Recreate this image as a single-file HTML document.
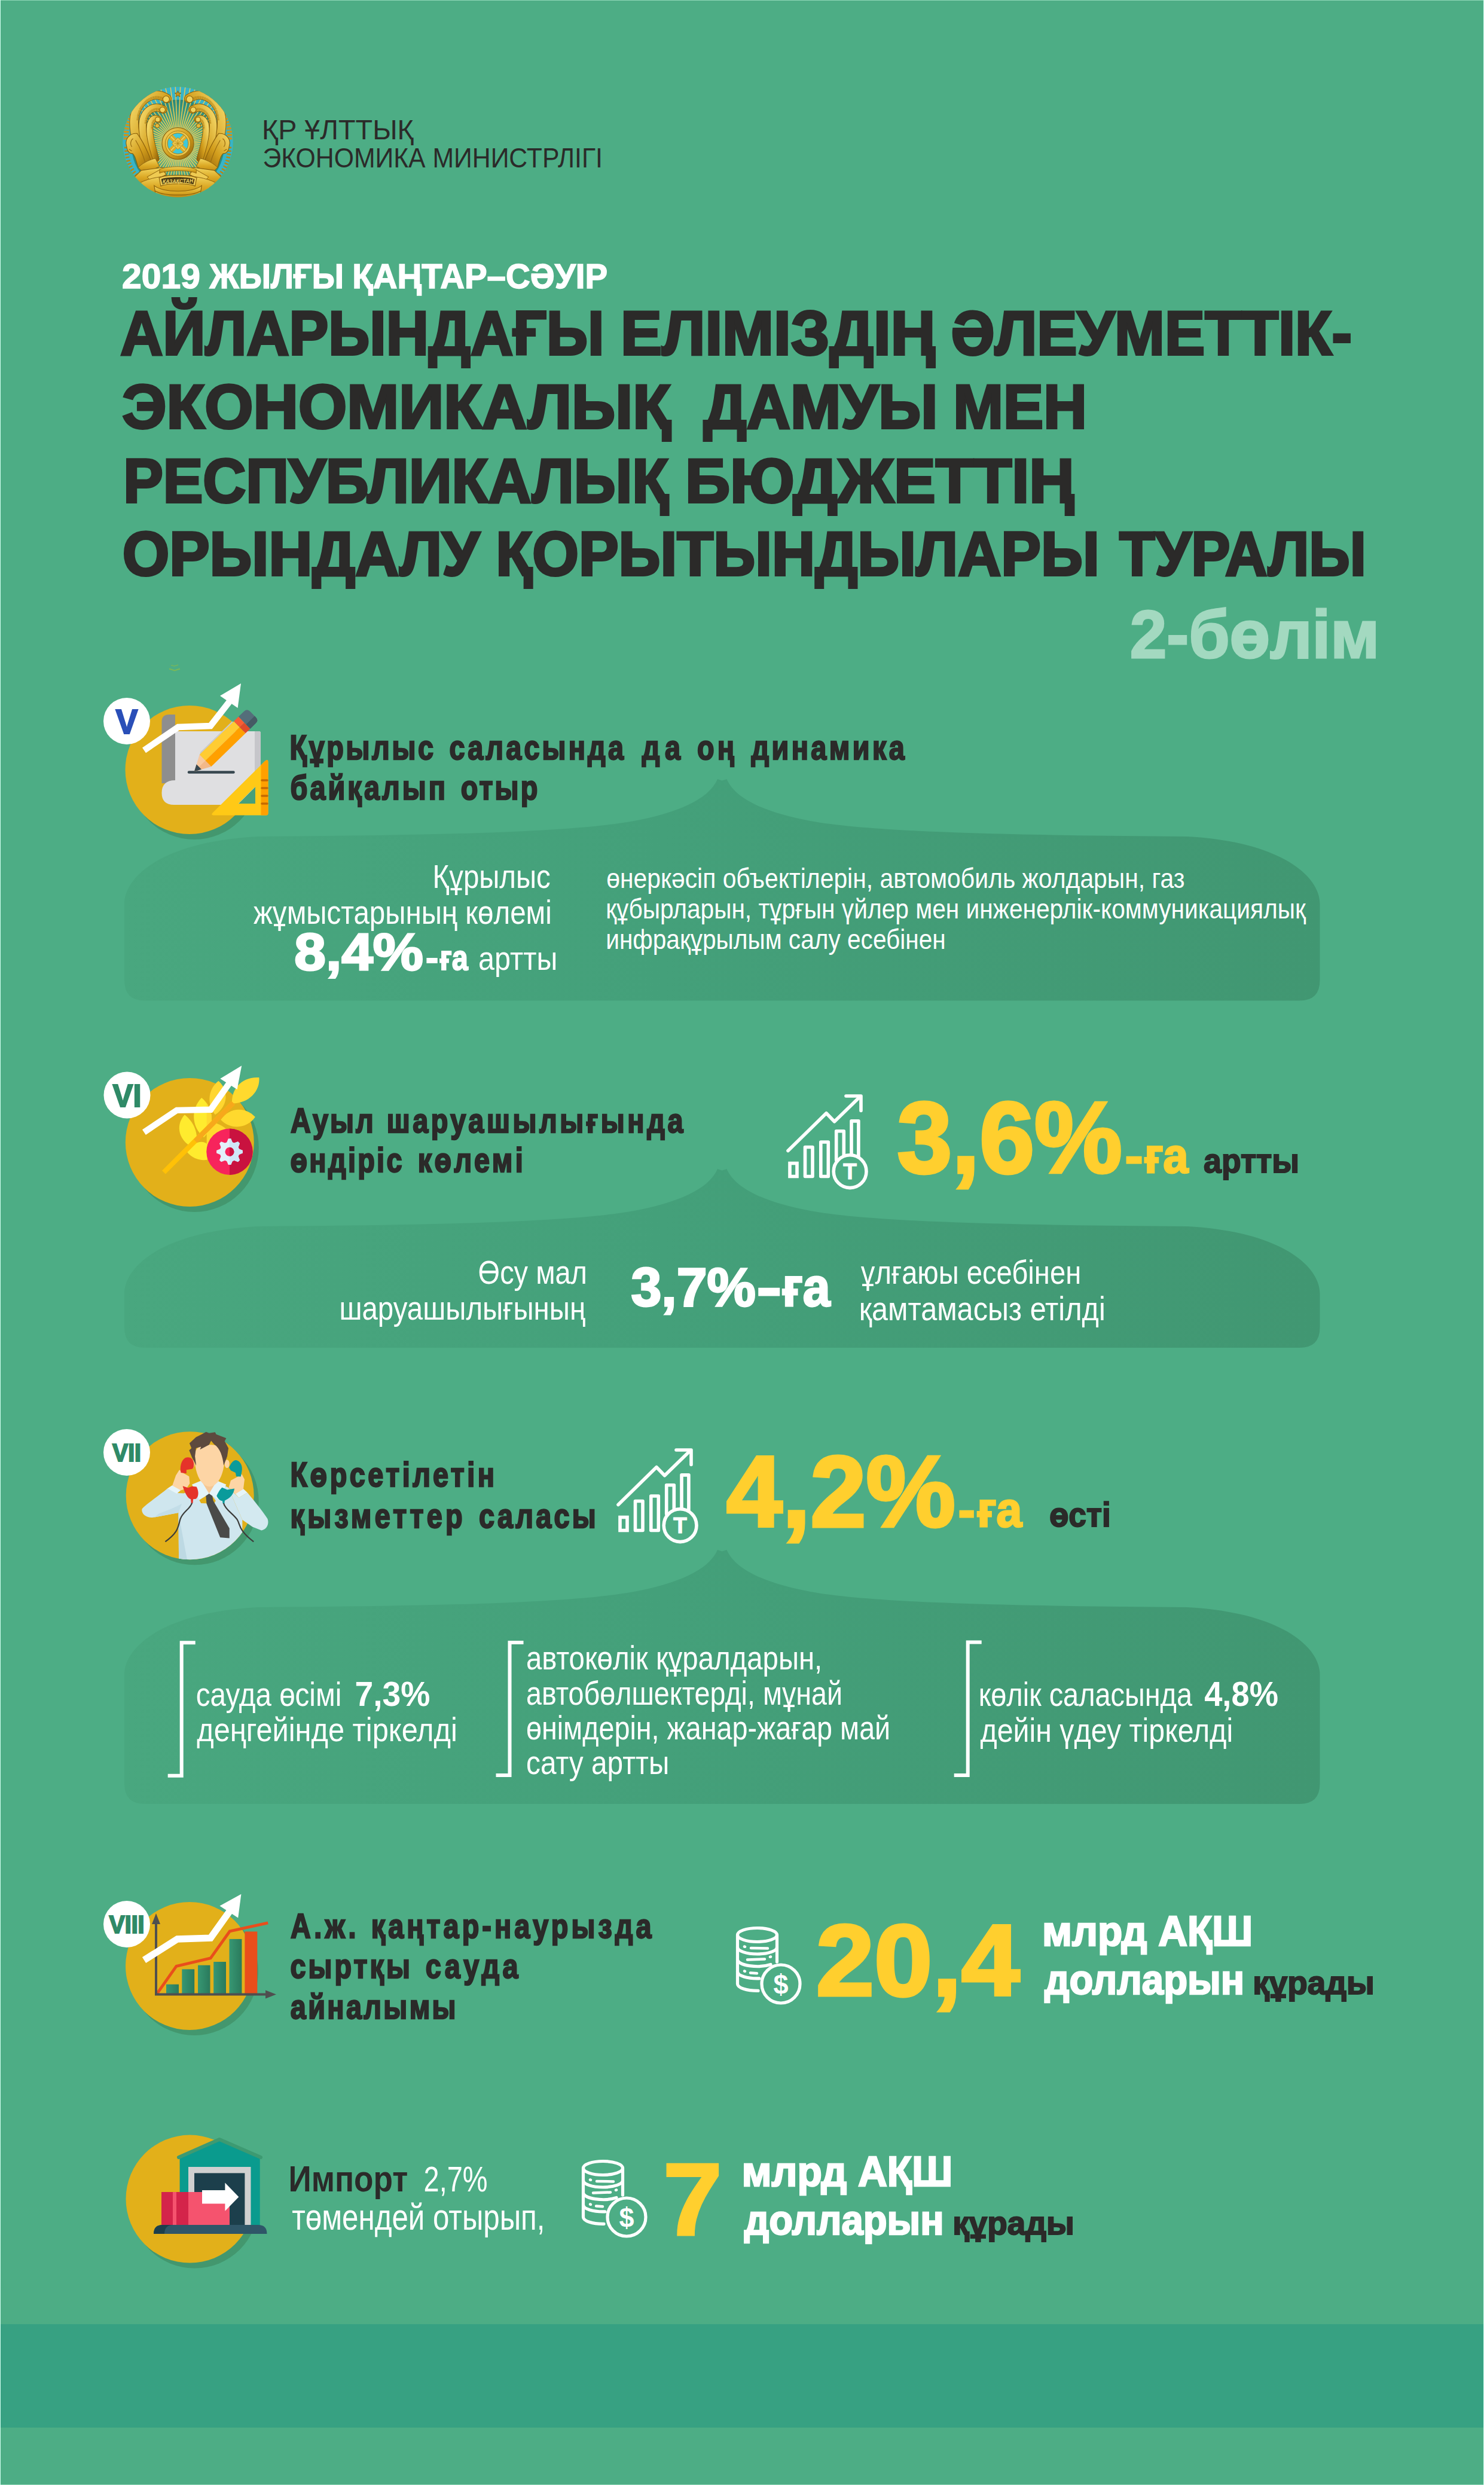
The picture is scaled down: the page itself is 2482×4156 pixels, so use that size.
<!DOCTYPE html>
<html lang="kk"><head><meta charset="utf-8"><title>ҚР Ұлттық экономика министрлігі</title>
<style>
html,body{margin:0;padding:0;background:#4dad85;}
body{width:2482px;height:4156px;overflow:hidden;}
svg{display:block;font-family:"Liberation Sans", sans-serif;}
text{white-space:pre;}
</style></head><body>
<svg width="2482" height="4156" viewBox="0 0 2482 4156">
<defs>
<linearGradient id="pg" x1="0" y1="0" x2="1" y2="0">
<stop offset="0" stop-color="#49a77f"/>
<stop offset="0.45" stop-color="#44a07a"/>
<stop offset="1" stop-color="#419772"/>
</linearGradient>
</defs>
<rect width="2482" height="4156" fill="#4dad85"/>
<rect x="0" y="3887" width="2482" height="173" fill="#37a182"/>
<rect x="0" y="0" width="2482" height="1" fill="#8fd6b6"/>
<rect x="0" y="4155" width="2482" height="1" fill="#8fd6b6"/>
<rect x="0" y="0" width="1" height="4156" fill="#d2fff0"/>
<rect x="2481" y="0" width="1" height="4156" fill="#d2fff0"/>

<path d="M208,1639.6 L208,1511 C208,1468 268,1408 430,1399 C700,1397 950,1393 1060,1373 C1130,1360 1185,1338 1200,1303 L1207.75,1305.5 L1215.5,1303 C1230.5,1338 1285.5,1360 1355.5,1373 C1465.5,1393 1715.5,1397 1985.5,1399 C2147.5,1408 2207.5,1468 2207.5,1511 L2207.5,1639.6 Q2207.5,1673.6 2173.5,1673.6 L242,1673.6 Q208,1673.6 208,1639.6 Z" fill="url(#pg)"/>
<path d="M208,2220 L208,2163 C208,2120 268,2060 430,2051 C700,2049 950,2045 1060,2025 C1130,2012 1185,1990 1200,1955 L1207.75,1957.5 L1215.5,1955 C1230.5,1990 1285.5,2012 1355.5,2025 C1465.5,2045 1715.5,2049 1985.5,2051 C2147.5,2060 2207.5,2120 2207.5,2163 L2207.5,2220 Q2207.5,2254 2173.5,2254 L242,2254 Q208,2254 208,2220 Z" fill="url(#pg)"/>
<path d="M208,2983 L208,2800 C208,2757 268,2697 430,2688 C700,2686 950,2682 1060,2662 C1130,2649 1185,2627 1200,2592 L1207.75,2594.5 L1215.5,2592 C1230.5,2627 1285.5,2649 1355.5,2662 C1465.5,2682 1715.5,2686 1985.5,2688 C2147.5,2697 2207.5,2757 2207.5,2800 L2207.5,2983 Q2207.5,3017 2173.5,3017 L242,3017 Q208,3017 208,2983 Z" fill="url(#pg)"/>
<g transform="translate(195,135) scale(0.13814)">
<defs><linearGradient id="eg" x1="0" y1="0" x2="0" y2="1"><stop offset="0" stop-color="#f3d660"/><stop offset="0.5" stop-color="#dba824"/><stop offset="1" stop-color="#b8820f"/></linearGradient><linearGradient id="eg2" x1="0" y1="0" x2="1" y2="1"><stop offset="0" stop-color="#f4d868"/><stop offset="0.55" stop-color="#d29d1c"/><stop offset="1" stop-color="#94640a"/></linearGradient><radialGradient id="egr" cx="0.5" cy="0.52" r="0.5"><stop offset="0" stop-color="#8fd0a4"/><stop offset="0.55" stop-color="#4aa581"/><stop offset="1" stop-color="#2b8a7c"/></radialGradient><clipPath id="ec"><circle cx="742" cy="742" r="668"/></clipPath></defs>
<defs><clipPath id="ecb"><rect x="0" y="0" width="1484" height="1190"/></clipPath></defs>
<circle cx="742" cy="742" r="668" fill="#37b4c8" clip-path="url(#ecb)"/>
<g clip-path="url(#ec)">
<circle cx="742" cy="790" r="560" fill="url(#egr)"/>
<path d="M927,768L1212,781 M925,784L1208,821 M923,800L1201,862 M918,816L1190,901 M913,831L1176,940 M906,845L1159,977 M898,859L1138,1013 M889,873L1115,1046 M878,885L1089,1078 M867,896L1060,1107 M855,907L1028,1133 M841,916L995,1156 M827,924L959,1177 M813,931L922,1194 M798,936L883,1208 M782,941L844,1219 M766,943L803,1226 M750,945L763,1230 M734,945L721,1230 M718,943L681,1226 M702,941L640,1219 M686,936L601,1208 M671,931L562,1194 M657,924L525,1177 M643,916L489,1156 M629,907L456,1133 M617,896L424,1107 M606,885L395,1078 M595,873L369,1046 M586,859L346,1013 M578,845L325,977 M571,831L308,940 M566,816L294,901 M561,800L283,862 M559,784L276,821 M557,768L272,781 M557,752L272,739 M559,736L276,699 M561,720L283,658 M566,704L294,619 M571,689L308,580 M578,675L325,543 M586,661L346,507 M595,647L187,334 M606,635L226,287 M617,624L269,244 M629,613L316,205 M643,604L366,170 M657,596L419,139 M671,589L474,113 M686,584L532,92 M702,579L590,77 M718,577L651,66 M734,575L711,61 M750,575L773,61 M766,577L833,66 M782,579L894,77 M798,584L952,92 M813,589L1010,113 M827,596L1065,139 M841,604L1118,170 M855,613L1168,205 M867,624L1215,244 M878,635L1258,287 M889,647L1297,334 M898,661L1138,507 M906,675L1159,543 M913,689L1176,580 M918,704L1190,619 M923,720L1201,658 M925,736L1208,699 M927,752L1212,739" stroke="#e9c955" stroke-width="11" fill="none"/>
<g transform="translate(742,0) scale(1,1) translate(-742,0)">
<path d="M300,215 C170,330 105,520 118,720" stroke="#c9971c" stroke-width="62" fill="none" stroke-dasharray="26 14"/>
<path d="M118,800 C120,960 170,1080 260,1170" stroke="#b8890f" stroke-width="50" fill="none" stroke-dasharray="18 22"/>
<path d="M610,215 C430,95 225,250 212,480 C204,650 262,800 335,965" stroke="#8a5f0a" stroke-width="112" fill="none" stroke-linecap="round"/>
<path d="M610,215 C430,95 225,250 212,480 C204,650 262,800 335,965" stroke="url(#eg2)" stroke-width="98" fill="none" stroke-linecap="round"/>
<path d="M585,232 C440,140 270,270 258,480" stroke="#a8780f" stroke-width="34" fill="none" stroke-dasharray="5 6"/>
<path d="M565,350 C450,275 325,375 315,520 C306,660 355,800 405,945" stroke="#8a5f0a" stroke-width="96" fill="none" stroke-linecap="round"/>
<path d="M565,350 C450,275 325,375 315,520 C306,660 355,800 405,945" stroke="url(#eg2)" stroke-width="82" fill="none" stroke-linecap="round"/>
<path d="M545,362 C455,305 360,390 352,520" stroke="#a8780f" stroke-width="28" fill="none" stroke-dasharray="5 6"/>
<path d="M505,468 C445,430 400,495 400,585 C400,705 440,825 475,945" stroke="#8a5f0a" stroke-width="84" fill="none" stroke-linecap="round"/>
<path d="M505,468 C445,430 400,495 400,585 C400,705 440,825 475,945" stroke="url(#eg2)" stroke-width="70" fill="none" stroke-linecap="round"/>
<path d="M490,478 C450,455 425,510 428,585" stroke="#a8780f" stroke-width="22" fill="none" stroke-dasharray="5 6"/>
<circle cx="600" cy="225" r="40" fill="#f1d25c" stroke="#8a5f0a" stroke-width="8"/>
<circle cx="556" cy="352" r="34" fill="#f1d25c" stroke="#8a5f0a" stroke-width="8"/>
<circle cx="498" cy="470" r="30" fill="#f1d25c" stroke="#8a5f0a" stroke-width="8"/>
<circle cx="492" cy="545" r="26" fill="#e4b93a" stroke="#8a5f0a" stroke-width="7"/>
<path d="M250,640 C165,630 95,700 120,790 C128,850 150,885 195,882 C228,905 240,985 262,1050 L430,1005 C395,900 335,760 250,640 Z" fill="url(#eg2)" stroke="#8a5f0a" stroke-width="8"/>
<path d="M200,700 C170,720 160,770 185,800 M150,830 L185,850 M230,720 C280,800 320,900 350,1000" stroke="#9a6c10" stroke-width="9" fill="none"/>
<path d="M262,1050 C300,1010 380,960 470,940 L520,1040 L330,1120 Z" fill="url(#eg)" stroke="#8a5f0a" stroke-width="7"/>
<path d="M175,1205 L300,1085 L560,1050 L600,1140 L420,1215 L300,1240 L260,1290 Z" fill="url(#eg)" stroke="#8a5f0a" stroke-width="8"/>
<path d="M370,1165 L545,1065 L600,1135 L430,1225 Z" fill="#efcb52" stroke="#8a5f0a" stroke-width="7"/>
<path d="M360,1290 L470,1255 L470,1380 L405,1395 L395,1340 L360,1350 Z" fill="url(#eg)" stroke="#8a5f0a" stroke-width="6"/>
</g>
<g transform="translate(742,0) scale(-1,1) translate(-742,0)">
<path d="M300,215 C170,330 105,520 118,720" stroke="#c9971c" stroke-width="62" fill="none" stroke-dasharray="26 14"/>
<path d="M118,800 C120,960 170,1080 260,1170" stroke="#b8890f" stroke-width="50" fill="none" stroke-dasharray="18 22"/>
<path d="M610,215 C430,95 225,250 212,480 C204,650 262,800 335,965" stroke="#8a5f0a" stroke-width="112" fill="none" stroke-linecap="round"/>
<path d="M610,215 C430,95 225,250 212,480 C204,650 262,800 335,965" stroke="url(#eg2)" stroke-width="98" fill="none" stroke-linecap="round"/>
<path d="M585,232 C440,140 270,270 258,480" stroke="#a8780f" stroke-width="34" fill="none" stroke-dasharray="5 6"/>
<path d="M565,350 C450,275 325,375 315,520 C306,660 355,800 405,945" stroke="#8a5f0a" stroke-width="96" fill="none" stroke-linecap="round"/>
<path d="M565,350 C450,275 325,375 315,520 C306,660 355,800 405,945" stroke="url(#eg2)" stroke-width="82" fill="none" stroke-linecap="round"/>
<path d="M545,362 C455,305 360,390 352,520" stroke="#a8780f" stroke-width="28" fill="none" stroke-dasharray="5 6"/>
<path d="M505,468 C445,430 400,495 400,585 C400,705 440,825 475,945" stroke="#8a5f0a" stroke-width="84" fill="none" stroke-linecap="round"/>
<path d="M505,468 C445,430 400,495 400,585 C400,705 440,825 475,945" stroke="url(#eg2)" stroke-width="70" fill="none" stroke-linecap="round"/>
<path d="M490,478 C450,455 425,510 428,585" stroke="#a8780f" stroke-width="22" fill="none" stroke-dasharray="5 6"/>
<circle cx="600" cy="225" r="40" fill="#f1d25c" stroke="#8a5f0a" stroke-width="8"/>
<circle cx="556" cy="352" r="34" fill="#f1d25c" stroke="#8a5f0a" stroke-width="8"/>
<circle cx="498" cy="470" r="30" fill="#f1d25c" stroke="#8a5f0a" stroke-width="8"/>
<circle cx="492" cy="545" r="26" fill="#e4b93a" stroke="#8a5f0a" stroke-width="7"/>
<path d="M250,640 C165,630 95,700 120,790 C128,850 150,885 195,882 C228,905 240,985 262,1050 L430,1005 C395,900 335,760 250,640 Z" fill="url(#eg2)" stroke="#8a5f0a" stroke-width="8"/>
<path d="M200,700 C170,720 160,770 185,800 M150,830 L185,850 M230,720 C280,800 320,900 350,1000" stroke="#9a6c10" stroke-width="9" fill="none"/>
<path d="M262,1050 C300,1010 380,960 470,940 L520,1040 L330,1120 Z" fill="url(#eg)" stroke="#8a5f0a" stroke-width="7"/>
<path d="M175,1205 L300,1085 L560,1050 L600,1140 L420,1215 L300,1240 L260,1290 Z" fill="url(#eg)" stroke="#8a5f0a" stroke-width="8"/>
<path d="M370,1165 L545,1065 L600,1135 L430,1225 Z" fill="#efcb52" stroke="#8a5f0a" stroke-width="7"/>
<path d="M360,1290 L470,1255 L470,1380 L405,1395 L395,1340 L360,1350 Z" fill="url(#eg)" stroke="#8a5f0a" stroke-width="6"/>
</g>
<path d="M285,1235 C500,1120 985,1120 1200,1235 L1120,1330 C960,1450 525,1450 365,1330 Z" fill="url(#eg)" stroke="#8a5f0a" stroke-width="7"/>
<path d="M520,1075 C600,1030 885,1030 965,1075 L965,1120 C885,1080 600,1080 520,1120 Z" fill="url(#eg)" stroke="#8a5f0a" stroke-width="6"/>
<path d="M455,1270 C560,1360 925,1360 1030,1270 L1010,1400 C900,1440 585,1440 475,1400 Z" fill="url(#eg)" stroke="#8a5f0a" stroke-width="8"/>
<path d="M470,1335 C580,1400 905,1400 1015,1335" stroke="#8a5f0a" stroke-width="9" fill="none"/>
<path d="M515,1175 C600,1135 885,1135 970,1175 L950,1275 C870,1240 615,1240 535,1275 Z" fill="#efcb52" stroke="#8a5f0a" stroke-width="8"/>
<path d="M540,1192 C620,1160 865,1160 945,1192 L930,1255 C855,1228 630,1228 555,1255 Z" fill="#4a3a12"/>
<circle cx="742" cy="760" r="192" fill="url(#eg2)" stroke="#8a5f0a" stroke-width="8"/>
<circle cx="742" cy="760" r="152" fill="#e9c44a" stroke="#a8780f" stroke-width="7"/>
<circle cx="742" cy="760" r="126" fill="#3fc8da"/>
<path d="M655,673 L829,847 M829,673 L655,847" stroke="#d9aa2a" stroke-width="62"/>
<path d="M655,673 L829,847 M829,673 L655,847" stroke="#f1d468" stroke-width="12" stroke-dasharray="0" />
<rect x="690" y="708" width="104" height="104" transform="rotate(45 742 760)" fill="#e9c44a" stroke="#a8780f" stroke-width="5"/>
<path d="M700,760 L784,760 M742,718 L742,802 M712,730 L772,790 M772,730 L712,790" stroke="#a8780f" stroke-width="5"/>
<circle cx="742" cy="760" r="126" fill="none" stroke="#a8780f" stroke-width="7"/>
<polygon points="742,122 752,148 780,150 758,167 766,194 742,179 718,194 726,167 704,150 732,148" fill="#c9971c" stroke="#7a560a" stroke-width="6"/>
</g>
<text x="556" y="1238" font-size="66" font-weight="bold" font-style="italic" fill="#f3d768" textLength="372" lengthAdjust="spacingAndGlyphs" transform="rotate(-1.500 742 1215)">ҚАЗАҚСТАН</text>
</g>
<circle cx="325" cy="1296.5" r="107.5" fill="#43976e"/>
<circle cx="317" cy="1287.5" r="107.5" fill="#e2b01a"/>
<path d="M270.500,1207 Q270.500,1195 283,1195 L293,1195 L293,1310 L270.500,1310 Z" fill="#8e8e8e"/>
<path d="M293,1223 L433,1223 Q436,1223 436,1226 L436,1346 L291,1346 Q270.500,1346 270.500,1326 Q270.500,1305 293,1305 Z" fill="#dfdfe1"/>
<path d="M426,1223 L433,1223 Q436,1223 436,1226 L436,1346 L426,1346 Z" fill="#c6c6ca"/>
<path d="M316,1291.500 L390.500,1291.500" stroke="#37474f" stroke-width="4.5" stroke-linecap="round"/>
<g transform="translate(324.9,1290.2) rotate(-44.2)"><path d="M6,-2 L30,-16 L104,-16 L104,-10 L20,8 Z" fill="#c9c9cd"/><path d="M0,0 L26,-14 L26,14 Z" fill="#f8c9a0"/><path d="M0,0 L26,0 L26,14 Z" fill="#f2b88a"/><path d="M0,0 L11,-6 L11,6 Z" fill="#37474f"/><rect x="26" y="-14" width="80" height="14" fill="#ffcc33"/><rect x="26" y="0" width="80" height="14" fill="#ffa000"/><rect x="106" y="-14" width="11" height="14" fill="#f95d34"/><rect x="106" y="0" width="11" height="14" fill="#e04a2a"/><path d="M117,-14 L130,-14 Q137,-14 137,-7 L137,7 Q137,14 130,14 L117,14 Z" fill="#546e7a"/><path d="M117,4 L137,4 L137,7 Q137,14 130,14 L117,14 Z" fill="#455a64"/></g>
<path d="M399,1344 L427,1316 L427,1344 Z" fill="#47a07a"/>
<path fill-rule="evenodd" d="M357,1363.500 Q352,1363.500 356,1359 L443,1273 Q448.500,1268 448.500,1275 L448.500,1360 Q448.500,1363.500 445,1363.500 Z M398.500,1344 L427,1344 L427,1315.500 Z" fill="#ffc916"/>
<path d="M436.500,1279.500 L443,1273 Q448.500,1268 448.500,1275 L448.500,1360 Q448.500,1363.500 445,1363.500 L436.500,1363.500 Z" fill="#ffa000"/>
<path d="M438,1305 h9 M438,1318 h9 M438,1331 h9 M438,1344 h9" stroke="#c66a00" stroke-width="3.500" stroke-linecap="round"/>
<path d="M241.0,1254.8 L298.0,1216.0 L352.0,1214.0 L386.0,1170.5" stroke="#fff" stroke-width="10.6" fill="none" stroke-linejoin="miter"/>
<path d="M403,1143 L368,1163.8 L397.6,1184 Z" fill="#fff"/>
<circle cx="212" cy="1206" r="39" fill="#fff"/>
<text x="193.5" y="1226.6" font-size="58" font-weight="bold" fill="#2a4fb8" stroke="#2a4fb8" stroke-width="2.2" textLength="37" lengthAdjust="spacingAndGlyphs">V</text>
<circle cx="325.3" cy="1919.5" r="107.5" fill="#43976e"/>
<circle cx="317.3" cy="1910.5" r="107.5" fill="#e2b01a"/>
<g transform="translate(190,1770) scale(0.18868)">
<defs><clipPath id="c6r"><rect x="825" y="0" width="700" height="1400"/></clipPath></defs>
<path d="M900,500 C820,400 840,270 930,200 C1020,280 1020,420 900,500 Z" fill="#ffd630"/>
<path d="M1050,400 C1040,280 1130,160 1290,170 C1300,290 1200,400 1050,400 Z" fill="#ffd92e"/>
<path d="M950,545 C1020,440 1160,420 1255,520 C1190,620 1040,640 950,545 Z" fill="#ffd92e"/>
<path d="M825,560 C900,560 980,600 1010,640 L900,760 L825,760 Z" fill="#ffd92e"/>
<path d="M720,800 C580,740 540,600 630,500 C730,580 760,700 720,800 Z" fill="#ffeb2e"/>
<path d="M800,700 C680,600 690,440 780,350 C890,440 900,600 800,700 Z" fill="#ffeb2e"/>
<path clip-path="url(#c6r)" d="M800,700 C680,600 690,440 780,350 C890,440 900,600 800,700 Z" fill="#ffd92e"/>
<path d="M650,830 C700,740 790,720 830,760 L830,900 C770,910 700,890 650,830 Z" fill="#ffeb2e"/>
<path d="M445,1010 L1060,395" stroke="#ffc107" stroke-width="44" fill="none"/>
<path d="M725,733 L1060,395" stroke="#f7a81b" stroke-width="44" fill="none"/>
</g>
<circle cx="384" cy="1926.2" r="38.7" fill="#f7245c"/>
<path d="M384,1887.500 A38.7,38.7 0 0 1 384,1964.900 Z" fill="#c9123f"/>
<defs><clipPath id="c6g"><polygon points="405.9,1924.0 405.9,1928.4 399.8,1931.0 398.6,1934.0 401.0,1940.2 398.0,1943.2 391.8,1940.8 388.8,1942.0 386.2,1948.1 381.8,1948.1 379.2,1942.0 376.2,1940.8 370.0,1943.2 367.0,1940.2 369.4,1934.0 368.2,1931.0 362.1,1928.4 362.1,1924.0 368.2,1921.4 369.4,1918.4 367.0,1912.2 370.0,1909.2 376.2,1911.6 379.2,1910.4 381.8,1904.3 386.2,1904.3 388.8,1910.4 391.8,1911.6 398.0,1909.2 401.0,1912.2 398.6,1918.4 399.8,1921.4"/></clipPath></defs>
<polygon points="405.9,1924.0 405.9,1928.4 399.8,1931.0 398.6,1934.0 401.0,1940.2 398.0,1943.2 391.8,1940.8 388.8,1942.0 386.2,1948.1 381.8,1948.1 379.2,1942.0 376.2,1940.8 370.0,1943.2 367.0,1940.2 369.4,1934.0 368.2,1931.0 362.1,1928.4 362.1,1924.0 368.2,1921.4 369.4,1918.4 367.0,1912.2 370.0,1909.2 376.2,1911.6 379.2,1910.4 381.8,1904.3 386.2,1904.3 388.8,1910.4 391.8,1911.6 398.0,1909.2 401.0,1912.2 398.6,1918.4 399.8,1921.4" fill="#e3f1fb"/>
<path d="M384,1900 L384,1952 L410,1952 L410,1900 Z" fill="#cfe6f7" clip-path="url(#c6g)"/>
<circle cx="384" cy="1926.2" r="7.5" fill="#f7245c"/>
<path d="M384,1918.700 A7.5,7.5 0 0 1 384,1933.700 Z" fill="#c9123f"/>
<path d="M240.9,1893.6 L295.7,1856.8 L352.3,1855.8 L384.3,1810.6" stroke="#fff" stroke-width="10.4" fill="none" stroke-linejoin="miter"/>
<path d="M404.2,1782.3 L368.3,1804 L396.6,1821.9 Z" fill="#fff"/>
<circle cx="212.5" cy="1831.5" r="39" fill="#fff"/>
<text x="188.5" y="1850.7" font-size="54" font-weight="bold" fill="#2f8a67" stroke="#2f8a67" stroke-width="2.2" textLength="48" lengthAdjust="spacingAndGlyphs">VI</text>
<circle cx="325.7" cy="2510.3" r="107" fill="#43976e"/>
<circle cx="317.7" cy="2501.3" r="107" fill="#e2b01a"/>
<defs><clipPath id="c7"><circle cx="317.7" cy="2501.3" r="107"/></clipPath></defs>
<g clip-path="url(#c7)"><g transform="translate(220,2380) scale(0.16846)">
<path d="M600,640 L690,585 L770,700 L850,585 L960,640 L1100,960 L1100,1400 L470,1400 L465,890 L520,700 Z" fill="#cfe6ee"/>
<path d="M465,890 L470,1400 L560,1400 Z" fill="#bdd9e3"/>
</g></g>
<g transform="translate(220,2380) scale(0.16846)">
<path d="M355,650 L450,695 L600,700 L465,890 L230,935 C150,950 90,900 105,850 C150,800 300,700 355,650 Z" fill="#cfe6ee"/>
<path d="M270,900 C350,870 430,840 500,800 L465,890 L230,935 Z" fill="#c2dde7"/>
<path d="M1150,690 L1065,740 L960,640 L1100,960 L1200,1030 L1290,1065 C1340,1060 1370,1000 1350,950 C1300,870 1200,750 1150,690 Z" fill="#d3e9f0"/>
<path d="M355,650 L405,618 L492,663 L450,700 Z" fill="#e6f5fa"/>
<path d="M1065,740 L1028,700 L1110,653 L1150,690 Z" fill="#e6f5fa"/>
<path d="M405,620 L440,520 L475,465 L520,500 L572,530 L578,600 L545,650 L490,668 Z" fill="#fdd5a5"/>
<path d="M1110,655 L1122,560 L1095,508 L1040,540 L985,570 L965,640 L1030,705 Z" fill="#fdd5a5"/>
<path d="M690,540 L850,540 L850,610 L770,700 L690,610 Z" fill="#f5c794"/>
<path d="M600,610 L692,572 L770,700 L672,765 Z" fill="#e3f4fa"/>
<path d="M848,572 L940,610 L868,765 L770,700 Z" fill="#e3f4fa"/>
<path d="M672,765 L740,722 L800,722 L836,770 L820,800 L690,795 Z" fill="#e2b01a"/>
<path d="M738,722 L770,700 L802,722 L812,772 L972,1045 L972,1142 L880,1136 L745,800 Z" fill="#4a4a48"/>
<path d="M625,330 C625,240 690,215 775,215 C860,215 925,240 925,330 C925,420 905,520 860,580 C830,615 800,630 775,630 C750,630 720,615 690,580 C645,520 625,420 625,330 Z" fill="#fdd5a5"/>
<ellipse cx="948" cy="405" rx="24" ry="42" fill="#fdd5a5"/>
<ellipse cx="606" cy="405" rx="20" ry="40" fill="#fdd5a5"/>
<path d="M600,340 L572,270 L595,250 L575,200 L640,140 L700,110 L740,88 L770,100 L830,90 L840,112 L940,150 L925,180 L962,250 L950,330 L915,422 C905,330 880,250 820,210 L790,175 L770,215 L680,262 L690,235 L640,250 L630,330 L642,422 Z" fill="#5d4a3e"/>
<path d="M490,492 C478,440 490,370 535,345 C570,330 610,345 618,395 C622,430 615,450 600,455 L545,465 L545,500 Z" fill="#e5332a"/>
<path d="M508,625 L560,642 L600,628 L645,632 C670,680 668,730 640,752 L612,755 L608,795 L592,795 L588,755 C560,750 530,700 508,625 Z" fill="#e5332a"/>
<path d="M968,442 C985,400 1010,365 1040,368 C1085,380 1105,430 1095,480 L1085,532 L1040,530 L1032,492 L985,470 Z" fill="#0a9b9b"/>
<path d="M845,722 C860,690 880,655 900,640 L950,662 L1022,650 C1015,700 985,740 940,762 L925,770 L922,800 L906,800 L902,772 C880,770 860,755 845,722 Z" fill="#0a9b9b"/>
<path d="M600,792 C585,850 510,880 485,950 C460,1030 470,1080 335,1178" stroke="#3c3c3a" stroke-width="13" fill="none"/>
<path d="M914,795 C930,860 1010,900 1050,960 C1080,1010 1060,1060 1212,1178" stroke="#3c3c3a" stroke-width="13" fill="none"/>
</g>
<circle cx="212" cy="2429" r="39" fill="#fff"/>
<text x="188.0" y="2443.9" font-size="42" font-weight="bold" fill="#2f8a67" stroke="#2f8a67" stroke-width="2.2" textLength="48" lengthAdjust="spacingAndGlyphs">VII</text>
<circle cx="325" cy="3297" r="107" fill="#43976e"/>
<circle cx="317" cy="3288" r="107" fill="#e2b01a"/>
<defs><linearGradient id="bg8" x1="0" y1="0" x2="1" y2="0"><stop offset="0" stop-color="#379773"/><stop offset="1" stop-color="#2a7a5c"/></linearGradient></defs>
<rect x="278" y="3318.7" width="21.0" height="15.3" fill="url(#bg8)"/>
<rect x="304.3" y="3293.4" width="20.9" height="40.6" fill="url(#bg8)"/>
<rect x="331" y="3286.7" width="20.5" height="47.3" fill="url(#bg8)"/>
<rect x="357.2" y="3281" width="20.8" height="53.0" fill="url(#bg8)"/>
<rect x="383.5" y="3242.9" width="20.9" height="91.1" fill="url(#bg8)"/>
<rect x="409.4" y="3230.4" width="20.9" height="103.6" fill="#e94e1b"/>
<path d="M262.9,3333.8 L294.9,3288.4 L352.2,3274.9 L384.2,3230 L448.2,3215.9" stroke="#e94e1b" stroke-width="4.8" fill="none"/>
<path d="M261,3212 L261,3335.500 L448,3335.500" stroke="#4f4f4f" stroke-width="4" fill="none"/>
<path d="M261,3200 L268,3218 L254,3218 Z M462,3335.500 L444,3328.5 L444,3342.5 Z" fill="#4f4f4f"/>
<path d="M241.0,3278.2 L296.6,3242.9 L352.2,3241.2 L385.8,3194.0" stroke="#fff" stroke-width="11.5" fill="none" stroke-linejoin="miter"/>
<path d="M403.4,3167.7 L367.5,3187.5 L398.2,3207.5 Z" fill="#fff"/>
<circle cx="212" cy="3218" r="39" fill="#fff"/>
<text x="182.5" y="3232.9" font-size="42" font-weight="bold" fill="#2f8a67" stroke="#2f8a67" stroke-width="2.2" textLength="59" lengthAdjust="spacingAndGlyphs">VIII</text>
<circle cx="325.5" cy="3686.6" r="107" fill="#43976e"/>
<circle cx="317.5" cy="3677.6" r="107" fill="#e2b01a"/>
<path d="M300.6,3609 L367,3579 L434.7,3609 L434.7,3722 L300.6,3722 Z" fill="#0a9b8e"/>
<path d="M299,3608 L367,3578 L436,3608" stroke="#3d9a72" stroke-width="6" fill="none" stroke-linecap="round" stroke-linejoin="round"/>
<rect x="315" y="3624" width="104.5" height="98" fill="#d0d0d0"/>
<rect x="325" y="3634.4" width="84.4" height="87.6" fill="#1c3f4c"/>
<rect x="270" y="3666" width="45" height="56" fill="#d4244a"/>
<rect x="289" y="3666" width="6" height="56" fill="#f5536e"/>
<rect x="315" y="3666" width="69" height="56" fill="#f5536e"/>
<path d="M338,3663 L376.4,3663 L376.4,3650.6 L399.3,3674.2 L376.4,3697.8 L376.4,3685.600 L338,3685.600 Z" fill="#fff"/>
<path d="M257,3736 Q257,3721 272,3721 L431.500,3721 Q446.500,3721 446.500,3736 Z" fill="#2f5668"/>
<path d="M257,3736 Q257,3721 272,3721 L290,3721 Q275,3721 275,3736 Z" fill="#1c3f4c"/>
<g transform="translate(0,0)" stroke="#fff" stroke-width="5.6" fill="none" stroke-linejoin="round" stroke-linecap="round">
<rect x="1321" y="1945.500" width="12" height="22" stroke-linejoin="miter"/>
<rect x="1346.5" y="1918.5" width="12.5" height="49"/>
<rect x="1372.8" y="1910" width="12.5" height="57.5"/>
<path d="M1398.7,1940 L1398.7,1891.8 L1411.3,1891.8 L1411.3,1932"/>
<path d="M1424,1930 L1424,1874.9 L1435.9,1874.9 L1435.9,1934"/>
<circle cx="1421.6" cy="1959.2" r="27.4"/>
<path d="M1318,1924.5 L1382,1861.7 L1395.6,1875.8 L1438,1834.5"/>
<path d="M1415,1833 L1440,1833 L1440,1857.5"/>
</g>
<text x="1410.1" y="1972.2" font-size="37" font-weight="bold" fill="#fff" stroke="#fff" stroke-width="0.8" textLength="23" lengthAdjust="spacingAndGlyphs">Т</text>
<g transform="translate(-284,592)" stroke="#fff" stroke-width="5.6" fill="none" stroke-linejoin="round" stroke-linecap="round">
<rect x="1321" y="1945.500" width="12" height="22" stroke-linejoin="miter"/>
<rect x="1346.5" y="1918.5" width="12.5" height="49"/>
<rect x="1372.8" y="1910" width="12.5" height="57.5"/>
<path d="M1398.7,1940 L1398.7,1891.8 L1411.3,1891.8 L1411.3,1932"/>
<path d="M1424,1930 L1424,1874.9 L1435.9,1874.9 L1435.9,1934"/>
<circle cx="1421.6" cy="1959.2" r="27.4"/>
<path d="M1318,1924.5 L1382,1861.7 L1395.6,1875.8 L1438,1834.5"/>
<path d="M1415,1833 L1440,1833 L1440,1857.5"/>
</g>
<text x="1126.1" y="2564.2" font-size="37" font-weight="bold" fill="#fff" stroke="#fff" stroke-width="0.8" textLength="23" lengthAdjust="spacingAndGlyphs">Т</text>
<g transform="translate(0,0)" stroke="#fff" stroke-width="5.2" fill="none" stroke-linecap="round">
<ellipse cx="1266.5" cy="3236" rx="33" ry="11.5"/>
<path d="M1233.5,3236 L1233.5,3318 A33,11.5 0 0 0 1268,3329.4"/>
<path d="M1299.5,3236 L1299.5,3281"/>
<path d="M1233.5,3256.500 A33,11.5 0 0 0 1299.5,3256.500"/>
<path d="M1233.5,3277 A33,11.5 0 0 0 1289,3285.500"/>
<path d="M1233.5,3297.500 A33,11.5 0 0 0 1270,3308.9"/>
<path d="M1245,3255.500 L1246,3255.800 M1256,3258 L1284,3258.500" stroke-width="4.5"/>
<path d="M1289,3272.500 L1288,3272.800 M1279,3276.500 L1250,3277.500" stroke-width="4.5"/>
<path d="M1245,3296.500 L1246,3296.800 M1255,3299.500 L1266,3300.300" stroke-width="4.5"/>
<circle cx="1306" cy="3318" r="32"/>
</g>
<text x="1293.5" y="3334.5" font-size="46" font-weight="bold" fill="#fff" textLength="25" lengthAdjust="spacingAndGlyphs">$</text>
<g transform="translate(-258,390)" stroke="#fff" stroke-width="5.2" fill="none" stroke-linecap="round">
<ellipse cx="1266.5" cy="3236" rx="33" ry="11.5"/>
<path d="M1233.5,3236 L1233.5,3318 A33,11.5 0 0 0 1268,3329.4"/>
<path d="M1299.5,3236 L1299.5,3281"/>
<path d="M1233.5,3256.500 A33,11.5 0 0 0 1299.5,3256.500"/>
<path d="M1233.5,3277 A33,11.5 0 0 0 1289,3285.500"/>
<path d="M1233.5,3297.500 A33,11.5 0 0 0 1270,3308.9"/>
<path d="M1245,3255.500 L1246,3255.800 M1256,3258 L1284,3258.500" stroke-width="4.5"/>
<path d="M1289,3272.500 L1288,3272.800 M1279,3276.500 L1250,3277.500" stroke-width="4.5"/>
<path d="M1245,3296.500 L1246,3296.800 M1255,3299.500 L1266,3300.300" stroke-width="4.5"/>
<circle cx="1306" cy="3318" r="32"/>
</g>
<text x="1035.5" y="3724.5" font-size="46" font-weight="bold" fill="#fff" textLength="25" lengthAdjust="spacingAndGlyphs">$</text>
<path d="M326.7,2747.3 L303.7,2747.3 L303.7,2969.7 L280.7,2969.7" stroke="#fff" stroke-width="6" fill="none"/>
<path d="M875.5,2747 L852.5,2747 L852.5,2969 L829.5,2969" stroke="#fff" stroke-width="6" fill="none"/>
<path d="M1641.7,2746.6 L1618.7,2746.6 L1618.7,2969 L1595.7,2969" stroke="#fff" stroke-width="6" fill="none"/>
<path d="M286,1112.500 L291.500,1114 L298,1112" stroke="#86bb4c" stroke-width="1.600" fill="none" opacity="0.7"/>
<path d="M283,1118.500 L292,1121.500 L301,1118.500" stroke="#86bb4c" stroke-width="2" fill="none" opacity="0.8"/>
<text x="437.9" y="232.7" font-size="46" font-weight="normal" fill="#2b2a29" textLength="253.9" lengthAdjust="spacingAndGlyphs">ҚР ҰЛТТЫҚ</text>
<text x="439.5" y="280.3" font-size="46" font-weight="normal" fill="#2b2a29" textLength="568.4" lengthAdjust="spacingAndGlyphs">ЭКОНОМИКА МИНИСТРЛІГІ</text>
<text x="204.1" y="482.0" font-size="57" font-weight="bold" fill="#fff" stroke="#fff" stroke-width="1.5" stroke-linejoin="miter" stroke-miterlimit="2.5" paint-order="stroke" textLength="130.8" lengthAdjust="spacingAndGlyphs">2019</text>
<text x="350.6" y="482.0" font-size="57" font-weight="bold" fill="#fff" stroke="#fff" stroke-width="1.5" stroke-linejoin="miter" stroke-miterlimit="2.5" paint-order="stroke" textLength="224.3" lengthAdjust="spacingAndGlyphs">ЖЫЛҒЫ</text>
<text x="589.3" y="482.0" font-size="57" font-weight="bold" fill="#fff" stroke="#fff" stroke-width="1.5" stroke-linejoin="miter" stroke-miterlimit="2.5" paint-order="stroke" textLength="426.9" lengthAdjust="spacingAndGlyphs">ҚАҢТАР–СӘУІР</text>
<text x="201.3" y="593.3" font-size="104" font-weight="bold" fill="#2b2a29" stroke="#2b2a29" stroke-width="4" stroke-linejoin="miter" stroke-miterlimit="2.5" paint-order="stroke" textLength="809.2" lengthAdjust="spacingAndGlyphs">АЙЛАРЫНДАҒЫ</text>
<text x="1038.1" y="593.3" font-size="104" font-weight="bold" fill="#2b2a29" stroke="#2b2a29" stroke-width="4" stroke-linejoin="miter" stroke-miterlimit="2.5" paint-order="stroke" textLength="526.1" lengthAdjust="spacingAndGlyphs">ЕЛІМІЗДІҢ</text>
<text x="1590.6" y="593.3" font-size="104" font-weight="bold" fill="#2b2a29" stroke="#2b2a29" stroke-width="4" stroke-linejoin="miter" stroke-miterlimit="2.5" paint-order="stroke" textLength="670.5" lengthAdjust="spacingAndGlyphs">ӘЛЕУМЕТТІК-</text>
<text x="204.2" y="715.6" font-size="104" font-weight="bold" fill="#2b2a29" stroke="#2b2a29" stroke-width="4" stroke-linejoin="miter" stroke-miterlimit="2.5" paint-order="stroke" textLength="917.8" lengthAdjust="spacingAndGlyphs">ЭКОНОМИКАЛЫҚ</text>
<text x="1176.6" y="715.6" font-size="104" font-weight="bold" fill="#2b2a29" stroke="#2b2a29" stroke-width="4" stroke-linejoin="miter" stroke-miterlimit="2.5" paint-order="stroke" textLength="391.9" lengthAdjust="spacingAndGlyphs">ДАМУЫ</text>
<text x="1594.3" y="715.6" font-size="104" font-weight="bold" fill="#2b2a29" stroke="#2b2a29" stroke-width="4" stroke-linejoin="miter" stroke-miterlimit="2.5" paint-order="stroke" textLength="223.5" lengthAdjust="spacingAndGlyphs">МЕН</text>
<text x="206.2" y="839.6" font-size="104" font-weight="bold" fill="#2b2a29" stroke="#2b2a29" stroke-width="4" stroke-linejoin="miter" stroke-miterlimit="2.5" paint-order="stroke" textLength="911.9" lengthAdjust="spacingAndGlyphs">РЕСПУБЛИКАЛЫҚ</text>
<text x="1146.0" y="839.6" font-size="104" font-weight="bold" fill="#2b2a29" stroke="#2b2a29" stroke-width="4" stroke-linejoin="miter" stroke-miterlimit="2.5" paint-order="stroke" textLength="650.7" lengthAdjust="spacingAndGlyphs">БЮДЖЕТТІҢ</text>
<text x="204.7" y="962.0" font-size="104" font-weight="bold" fill="#2b2a29" stroke="#2b2a29" stroke-width="4" stroke-linejoin="miter" stroke-miterlimit="2.5" paint-order="stroke" textLength="597.3" lengthAdjust="spacingAndGlyphs">ОРЫНДАЛУ</text>
<text x="829.3" y="962.0" font-size="104" font-weight="bold" fill="#2b2a29" stroke="#2b2a29" stroke-width="4" stroke-linejoin="miter" stroke-miterlimit="2.5" paint-order="stroke" textLength="1009.4" lengthAdjust="spacingAndGlyphs">ҚОРЫТЫНДЫЛАРЫ</text>
<text x="1871.9" y="962.0" font-size="104" font-weight="bold" fill="#2b2a29" stroke="#2b2a29" stroke-width="4" stroke-linejoin="miter" stroke-miterlimit="2.5" paint-order="stroke" textLength="413.0" lengthAdjust="spacingAndGlyphs">ТУРАЛЫ</text>
<text x="1889.7" y="1100.0" font-size="114" font-weight="bold" fill="#a3d9c0" stroke="#a3d9c0" stroke-width="3" stroke-linejoin="miter" stroke-miterlimit="2.5" paint-order="stroke" textLength="417.6" lengthAdjust="spacingAndGlyphs">2-бөлім</text>
<text transform="scale(0.82,1)" x="590.8" y="1270.0" font-size="57" font-weight="bold" fill="#2b2a29" stroke="#2b2a29" stroke-width="2.5" stroke-linejoin="miter" stroke-miterlimit="2.5" paint-order="stroke" textLength="293.4" lengthAdjust="spacing">Құрылыс</text>
<text transform="scale(0.82,1)" x="916.4" y="1270.0" font-size="57" font-weight="bold" fill="#2b2a29" stroke="#2b2a29" stroke-width="2.5" stroke-linejoin="miter" stroke-miterlimit="2.5" paint-order="stroke" textLength="355.5" lengthAdjust="spacing">саласында</text>
<text transform="scale(0.82,1)" x="1309.4" y="1270.0" font-size="57" font-weight="bold" fill="#2b2a29" stroke="#2b2a29" stroke-width="2.5" stroke-linejoin="miter" stroke-miterlimit="2.5" paint-order="stroke" textLength="78.3" lengthAdjust="spacing">да</text>
<text transform="scale(0.82,1)" x="1422.0" y="1270.0" font-size="57" font-weight="bold" fill="#2b2a29" stroke="#2b2a29" stroke-width="2.5" stroke-linejoin="miter" stroke-miterlimit="2.5" paint-order="stroke" textLength="75.4" lengthAdjust="spacing">оң</text>
<text transform="scale(0.82,1)" x="1532.2" y="1270.0" font-size="57" font-weight="bold" fill="#2b2a29" stroke="#2b2a29" stroke-width="2.5" stroke-linejoin="miter" stroke-miterlimit="2.5" paint-order="stroke" textLength="312.6" lengthAdjust="spacing">динамика</text>
<text transform="scale(0.82,1)" x="592.0" y="1336.7" font-size="57" font-weight="bold" fill="#2b2a29" stroke="#2b2a29" stroke-width="2.5" stroke-linejoin="miter" stroke-miterlimit="2.5" paint-order="stroke" textLength="316.6" lengthAdjust="spacing">байқалып</text>
<text transform="scale(0.82,1)" x="939.9" y="1336.7" font-size="57" font-weight="bold" fill="#2b2a29" stroke="#2b2a29" stroke-width="2.5" stroke-linejoin="miter" stroke-miterlimit="2.5" paint-order="stroke" textLength="156.9" lengthAdjust="spacing">отыр</text>
<text x="723.6" y="1484.7" font-size="56" font-weight="normal" fill="#fff" textLength="197.2" lengthAdjust="spacingAndGlyphs">Құрылыс</text>
<text x="424.1" y="1544.5" font-size="56" font-weight="normal" fill="#fff" textLength="498.7" lengthAdjust="spacingAndGlyphs">жұмыстарының көлемі</text>
<text x="492.3" y="1622.0" font-size="88" font-weight="bold" fill="#fff" stroke="#fff" stroke-width="3" stroke-linejoin="miter" stroke-miterlimit="2.5" paint-order="stroke" textLength="215.7" lengthAdjust="spacingAndGlyphs">8,4%</text>
<text x="711.9" y="1622.0" font-size="60" font-weight="bold" fill="#fff" stroke="#fff" stroke-width="2" stroke-linejoin="miter" stroke-miterlimit="2.5" paint-order="stroke" textLength="21.2" lengthAdjust="spacingAndGlyphs">-</text>
<text x="735.4" y="1622.0" font-size="60" font-weight="bold" fill="#fff" stroke="#fff" stroke-width="2" stroke-linejoin="miter" stroke-miterlimit="2.5" paint-order="stroke" textLength="47.3" lengthAdjust="spacingAndGlyphs">ға</text>
<text x="800.0" y="1622.0" font-size="56" font-weight="normal" fill="#fff" textLength="132.4" lengthAdjust="spacingAndGlyphs">артты</text>
<text x="1014.3" y="1484.6" font-size="47" font-weight="normal" fill="#fff" textLength="967.2" lengthAdjust="spacingAndGlyphs">өнеркәсіп объектілерін, автомобиль жолдарын, газ</text>
<text x="1013.3" y="1536.0" font-size="47" font-weight="normal" fill="#fff" textLength="1170.5" lengthAdjust="spacingAndGlyphs">құбырларын, тұрғын үйлер мен инженерлік-коммуникациялық</text>
<text x="1013.2" y="1587.0" font-size="47" font-weight="normal" fill="#fff" textLength="568.6" lengthAdjust="spacingAndGlyphs">инфрақұрылым салу есебінен</text>
<text transform="scale(0.82,1)" x="592.8" y="1893.7" font-size="57" font-weight="bold" fill="#2b2a29" stroke="#2b2a29" stroke-width="2.5" stroke-linejoin="miter" stroke-miterlimit="2.5" paint-order="stroke" textLength="169.1" lengthAdjust="spacing">Ауыл</text>
<text transform="scale(0.82,1)" x="788.6" y="1893.7" font-size="57" font-weight="bold" fill="#2b2a29" stroke="#2b2a29" stroke-width="2.5" stroke-linejoin="miter" stroke-miterlimit="2.5" paint-order="stroke" textLength="604.6" lengthAdjust="spacing">шаруашылығында</text>
<text transform="scale(0.82,1)" x="592.0" y="1959.7" font-size="57" font-weight="bold" fill="#2b2a29" stroke="#2b2a29" stroke-width="2.5" stroke-linejoin="miter" stroke-miterlimit="2.5" paint-order="stroke" textLength="228.0" lengthAdjust="spacing">өндіріс</text>
<text transform="scale(0.82,1)" x="852.0" y="1959.7" font-size="57" font-weight="bold" fill="#2b2a29" stroke="#2b2a29" stroke-width="2.5" stroke-linejoin="miter" stroke-miterlimit="2.5" paint-order="stroke" textLength="214.8" lengthAdjust="spacing">көлемі</text>
<text x="1500.5" y="1961.0" font-size="168" font-weight="bold" fill="#ffcf2e" stroke="#ffcf2e" stroke-width="5" stroke-linejoin="miter" stroke-miterlimit="2.5" paint-order="stroke" textLength="376.3" lengthAdjust="spacingAndGlyphs">3,6%</text>
<text x="1881.7" y="1961.0" font-size="82" font-weight="bold" fill="#ffcf2e" stroke="#ffcf2e" stroke-width="3" stroke-linejoin="miter" stroke-miterlimit="2.5" paint-order="stroke" textLength="29.8" lengthAdjust="spacingAndGlyphs">-</text>
<text x="1914.2" y="1961.0" font-size="82" font-weight="bold" fill="#ffcf2e" stroke="#ffcf2e" stroke-width="3" stroke-linejoin="miter" stroke-miterlimit="2.5" paint-order="stroke" textLength="73.3" lengthAdjust="spacingAndGlyphs">ға</text>
<text x="2013.1" y="1961.0" font-size="57" font-weight="bold" fill="#2b2a29" stroke="#2b2a29" stroke-width="2" stroke-linejoin="miter" stroke-miterlimit="2.5" paint-order="stroke" textLength="160.0" lengthAdjust="spacingAndGlyphs">артты</text>
<text x="799.6" y="2147.0" font-size="56" font-weight="normal" fill="#fff" textLength="182.4" lengthAdjust="spacingAndGlyphs">Өсу мал</text>
<text x="567.4" y="2207.4" font-size="56" font-weight="normal" fill="#fff" textLength="411.7" lengthAdjust="spacingAndGlyphs">шаруашылығының</text>
<text x="1055.4" y="2184.3" font-size="90" font-weight="bold" fill="#fff" stroke="#fff" stroke-width="3" stroke-linejoin="miter" stroke-miterlimit="2.5" paint-order="stroke" textLength="208.5" lengthAdjust="spacingAndGlyphs">3,7%</text>
<text x="1265.6" y="2184.3" font-size="90" font-weight="bold" fill="#fff" stroke="#fff" stroke-width="3" stroke-linejoin="miter" stroke-miterlimit="2.5" paint-order="stroke" textLength="41.6" lengthAdjust="spacingAndGlyphs">-</text>
<text x="1308.6" y="2184.3" font-size="90" font-weight="bold" fill="#fff" stroke="#fff" stroke-width="3" stroke-linejoin="miter" stroke-miterlimit="2.5" paint-order="stroke" textLength="80.0" lengthAdjust="spacingAndGlyphs">ға</text>
<text x="1439.8" y="2146.6" font-size="56" font-weight="normal" fill="#fff" textLength="368.4" lengthAdjust="spacingAndGlyphs">ұлғаюы есебінен</text>
<text x="1436.7" y="2207.5" font-size="56" font-weight="normal" fill="#fff" textLength="412.0" lengthAdjust="spacingAndGlyphs">қамтамасыз етілді</text>
<text transform="scale(0.82,1)" x="592.1" y="2485.8" font-size="57" font-weight="bold" fill="#2b2a29" stroke="#2b2a29" stroke-width="2.5" stroke-linejoin="miter" stroke-miterlimit="2.5" paint-order="stroke" textLength="416.5" lengthAdjust="spacing" style="word-spacing:3.4px">Көрсетілетін</text>
<text transform="scale(0.82,1)" x="592.0" y="2554.7" font-size="57" font-weight="bold" fill="#2b2a29" stroke="#2b2a29" stroke-width="2.5" stroke-linejoin="miter" stroke-miterlimit="2.5" paint-order="stroke" textLength="351.5" lengthAdjust="spacing">қызметтер</text>
<text transform="scale(0.82,1)" x="976.9" y="2554.7" font-size="57" font-weight="bold" fill="#2b2a29" stroke="#2b2a29" stroke-width="2.5" stroke-linejoin="miter" stroke-miterlimit="2.5" paint-order="stroke" textLength="238.5" lengthAdjust="spacing">саласы</text>
<text x="1215.0" y="2552.8" font-size="168" font-weight="bold" fill="#ffcf2e" stroke="#ffcf2e" stroke-width="5" stroke-linejoin="miter" stroke-miterlimit="2.5" paint-order="stroke" textLength="383.0" lengthAdjust="spacingAndGlyphs">4,2%</text>
<text x="1602.7" y="2552.8" font-size="82" font-weight="bold" fill="#ffcf2e" stroke="#ffcf2e" stroke-width="3" stroke-linejoin="miter" stroke-miterlimit="2.5" paint-order="stroke" textLength="27.9" lengthAdjust="spacingAndGlyphs">-</text>
<text x="1634.6" y="2552.8" font-size="82" font-weight="bold" fill="#ffcf2e" stroke="#ffcf2e" stroke-width="3" stroke-linejoin="miter" stroke-miterlimit="2.5" paint-order="stroke" textLength="74.7" lengthAdjust="spacingAndGlyphs">ға</text>
<text x="1754.9" y="2552.8" font-size="57" font-weight="bold" fill="#2b2a29" stroke="#2b2a29" stroke-width="2" stroke-linejoin="miter" stroke-miterlimit="2.5" paint-order="stroke" textLength="102.8" lengthAdjust="spacingAndGlyphs">өсті</text>
<text x="327.8" y="2853.0" font-size="56" font-weight="normal" fill="#fff" textLength="243.4" lengthAdjust="spacingAndGlyphs">сауда өсімі</text>
<text x="593.4" y="2853.0" font-size="57" font-weight="bold" fill="#fff" textLength="126.0" lengthAdjust="spacingAndGlyphs">7,3%</text>
<text x="329.3" y="2911.5" font-size="56" font-weight="normal" fill="#fff" textLength="435.5" lengthAdjust="spacingAndGlyphs">деңгейінде тіркелді</text>
<text x="880.0" y="2791.7" font-size="56" font-weight="normal" fill="#fff" textLength="495.2" lengthAdjust="spacingAndGlyphs">автокөлік құралдарын,</text>
<text x="880.0" y="2850.6" font-size="56" font-weight="normal" fill="#fff" textLength="529.1" lengthAdjust="spacingAndGlyphs">автобөлшектерді, мұнай</text>
<text x="880.0" y="2908.5" font-size="56" font-weight="normal" fill="#fff" textLength="609.2" lengthAdjust="spacingAndGlyphs">өнімдерін, жанар-жағар май</text>
<text x="880.0" y="2967.4" font-size="56" font-weight="normal" fill="#fff" textLength="239.3" lengthAdjust="spacingAndGlyphs">сату артты</text>
<text x="1636.8" y="2852.5" font-size="56" font-weight="normal" fill="#fff" textLength="357.2" lengthAdjust="spacingAndGlyphs">көлік саласында</text>
<text x="2014.2" y="2852.5" font-size="57" font-weight="bold" fill="#fff" textLength="123.7" lengthAdjust="spacingAndGlyphs">4,8%</text>
<text x="1639.5" y="2913.0" font-size="56" font-weight="normal" fill="#fff" textLength="422.7" lengthAdjust="spacingAndGlyphs">дейін үдеу тіркелді</text>
<text transform="scale(0.82,1)" x="592.8" y="3241.3" font-size="57" font-weight="bold" fill="#2b2a29" stroke="#2b2a29" stroke-width="2.5" stroke-linejoin="miter" stroke-miterlimit="2.5" paint-order="stroke" textLength="133.4" lengthAdjust="spacing">А.ж.</text>
<text transform="scale(0.82,1)" x="757.0" y="3241.3" font-size="57" font-weight="bold" fill="#2b2a29" stroke="#2b2a29" stroke-width="2.5" stroke-linejoin="miter" stroke-miterlimit="2.5" paint-order="stroke" textLength="571.6" lengthAdjust="spacing">қаңтар-наурызда</text>
<text transform="scale(0.82,1)" x="592.0" y="3308.3" font-size="57" font-weight="bold" fill="#2b2a29" stroke="#2b2a29" stroke-width="2.5" stroke-linejoin="miter" stroke-miterlimit="2.5" paint-order="stroke" textLength="244.6" lengthAdjust="spacing">сыртқы</text>
<text transform="scale(0.82,1)" x="868.1" y="3308.3" font-size="57" font-weight="bold" fill="#2b2a29" stroke="#2b2a29" stroke-width="2.5" stroke-linejoin="miter" stroke-miterlimit="2.5" paint-order="stroke" textLength="188.6" lengthAdjust="spacing">сауда</text>
<text transform="scale(0.82,1)" x="592.5" y="3375.8" font-size="57" font-weight="bold" fill="#2b2a29" stroke="#2b2a29" stroke-width="2.5" stroke-linejoin="miter" stroke-miterlimit="2.5" paint-order="stroke" textLength="337.4" lengthAdjust="spacing" style="word-spacing:3.4px">айналымы</text>
<text x="1364.7" y="3337.0" font-size="168" font-weight="bold" fill="#ffcf2e" stroke="#ffcf2e" stroke-width="5" stroke-linejoin="miter" stroke-miterlimit="2.5" paint-order="stroke" textLength="340.7" lengthAdjust="spacingAndGlyphs">20,4</text>
<text x="1742.9" y="3254.0" font-size="70" font-weight="bold" fill="#fff" stroke="#fff" stroke-width="2.5" stroke-linejoin="miter" stroke-miterlimit="2.5" paint-order="stroke" textLength="352.4" lengthAdjust="spacingAndGlyphs">млрд АҚШ</text>
<text x="1747.1" y="3334.8" font-size="70" font-weight="bold" fill="#fff" stroke="#fff" stroke-width="2.5" stroke-linejoin="miter" stroke-miterlimit="2.5" paint-order="stroke" textLength="334.2" lengthAdjust="spacingAndGlyphs">долларын</text>
<text x="2095.2" y="3334.8" font-size="55" font-weight="bold" fill="#2b2a29" stroke="#2b2a29" stroke-width="2" stroke-linejoin="miter" stroke-miterlimit="2.5" paint-order="stroke" textLength="203.6" lengthAdjust="spacingAndGlyphs">құрады</text>
<text x="482.5" y="3665.0" font-size="61" font-weight="bold" fill="#2b2a29" textLength="199.8" lengthAdjust="spacingAndGlyphs">Импорт</text>
<text x="708.6" y="3665.0" font-size="60" font-weight="normal" fill="#fff" textLength="106.8" lengthAdjust="spacingAndGlyphs">2,7%</text>
<text x="488.2" y="3728.6" font-size="62" font-weight="normal" fill="#fff" textLength="423.3" lengthAdjust="spacingAndGlyphs">төмендей отырып,</text>
<text x="1109.0" y="3737.0" font-size="170" font-weight="bold" fill="#ffcf2e" stroke="#ffcf2e" stroke-width="4" stroke-linejoin="miter" stroke-miterlimit="2.5" paint-order="stroke" textLength="98.8" lengthAdjust="spacingAndGlyphs">7</text>
<text x="1240.5" y="3655.5" font-size="70" font-weight="bold" fill="#fff" stroke="#fff" stroke-width="2.5" stroke-linejoin="miter" stroke-miterlimit="2.5" paint-order="stroke" textLength="352.7" lengthAdjust="spacingAndGlyphs">млрд АҚШ</text>
<text x="1244.8" y="3737.0" font-size="70" font-weight="bold" fill="#fff" stroke="#fff" stroke-width="2.5" stroke-linejoin="miter" stroke-miterlimit="2.5" paint-order="stroke" textLength="334.0" lengthAdjust="spacingAndGlyphs">долларын</text>
<text x="1593.2" y="3737.0" font-size="55" font-weight="bold" fill="#2b2a29" stroke="#2b2a29" stroke-width="2" stroke-linejoin="miter" stroke-miterlimit="2.5" paint-order="stroke" textLength="203.6" lengthAdjust="spacingAndGlyphs">құрады</text>
</svg>
</body></html>
